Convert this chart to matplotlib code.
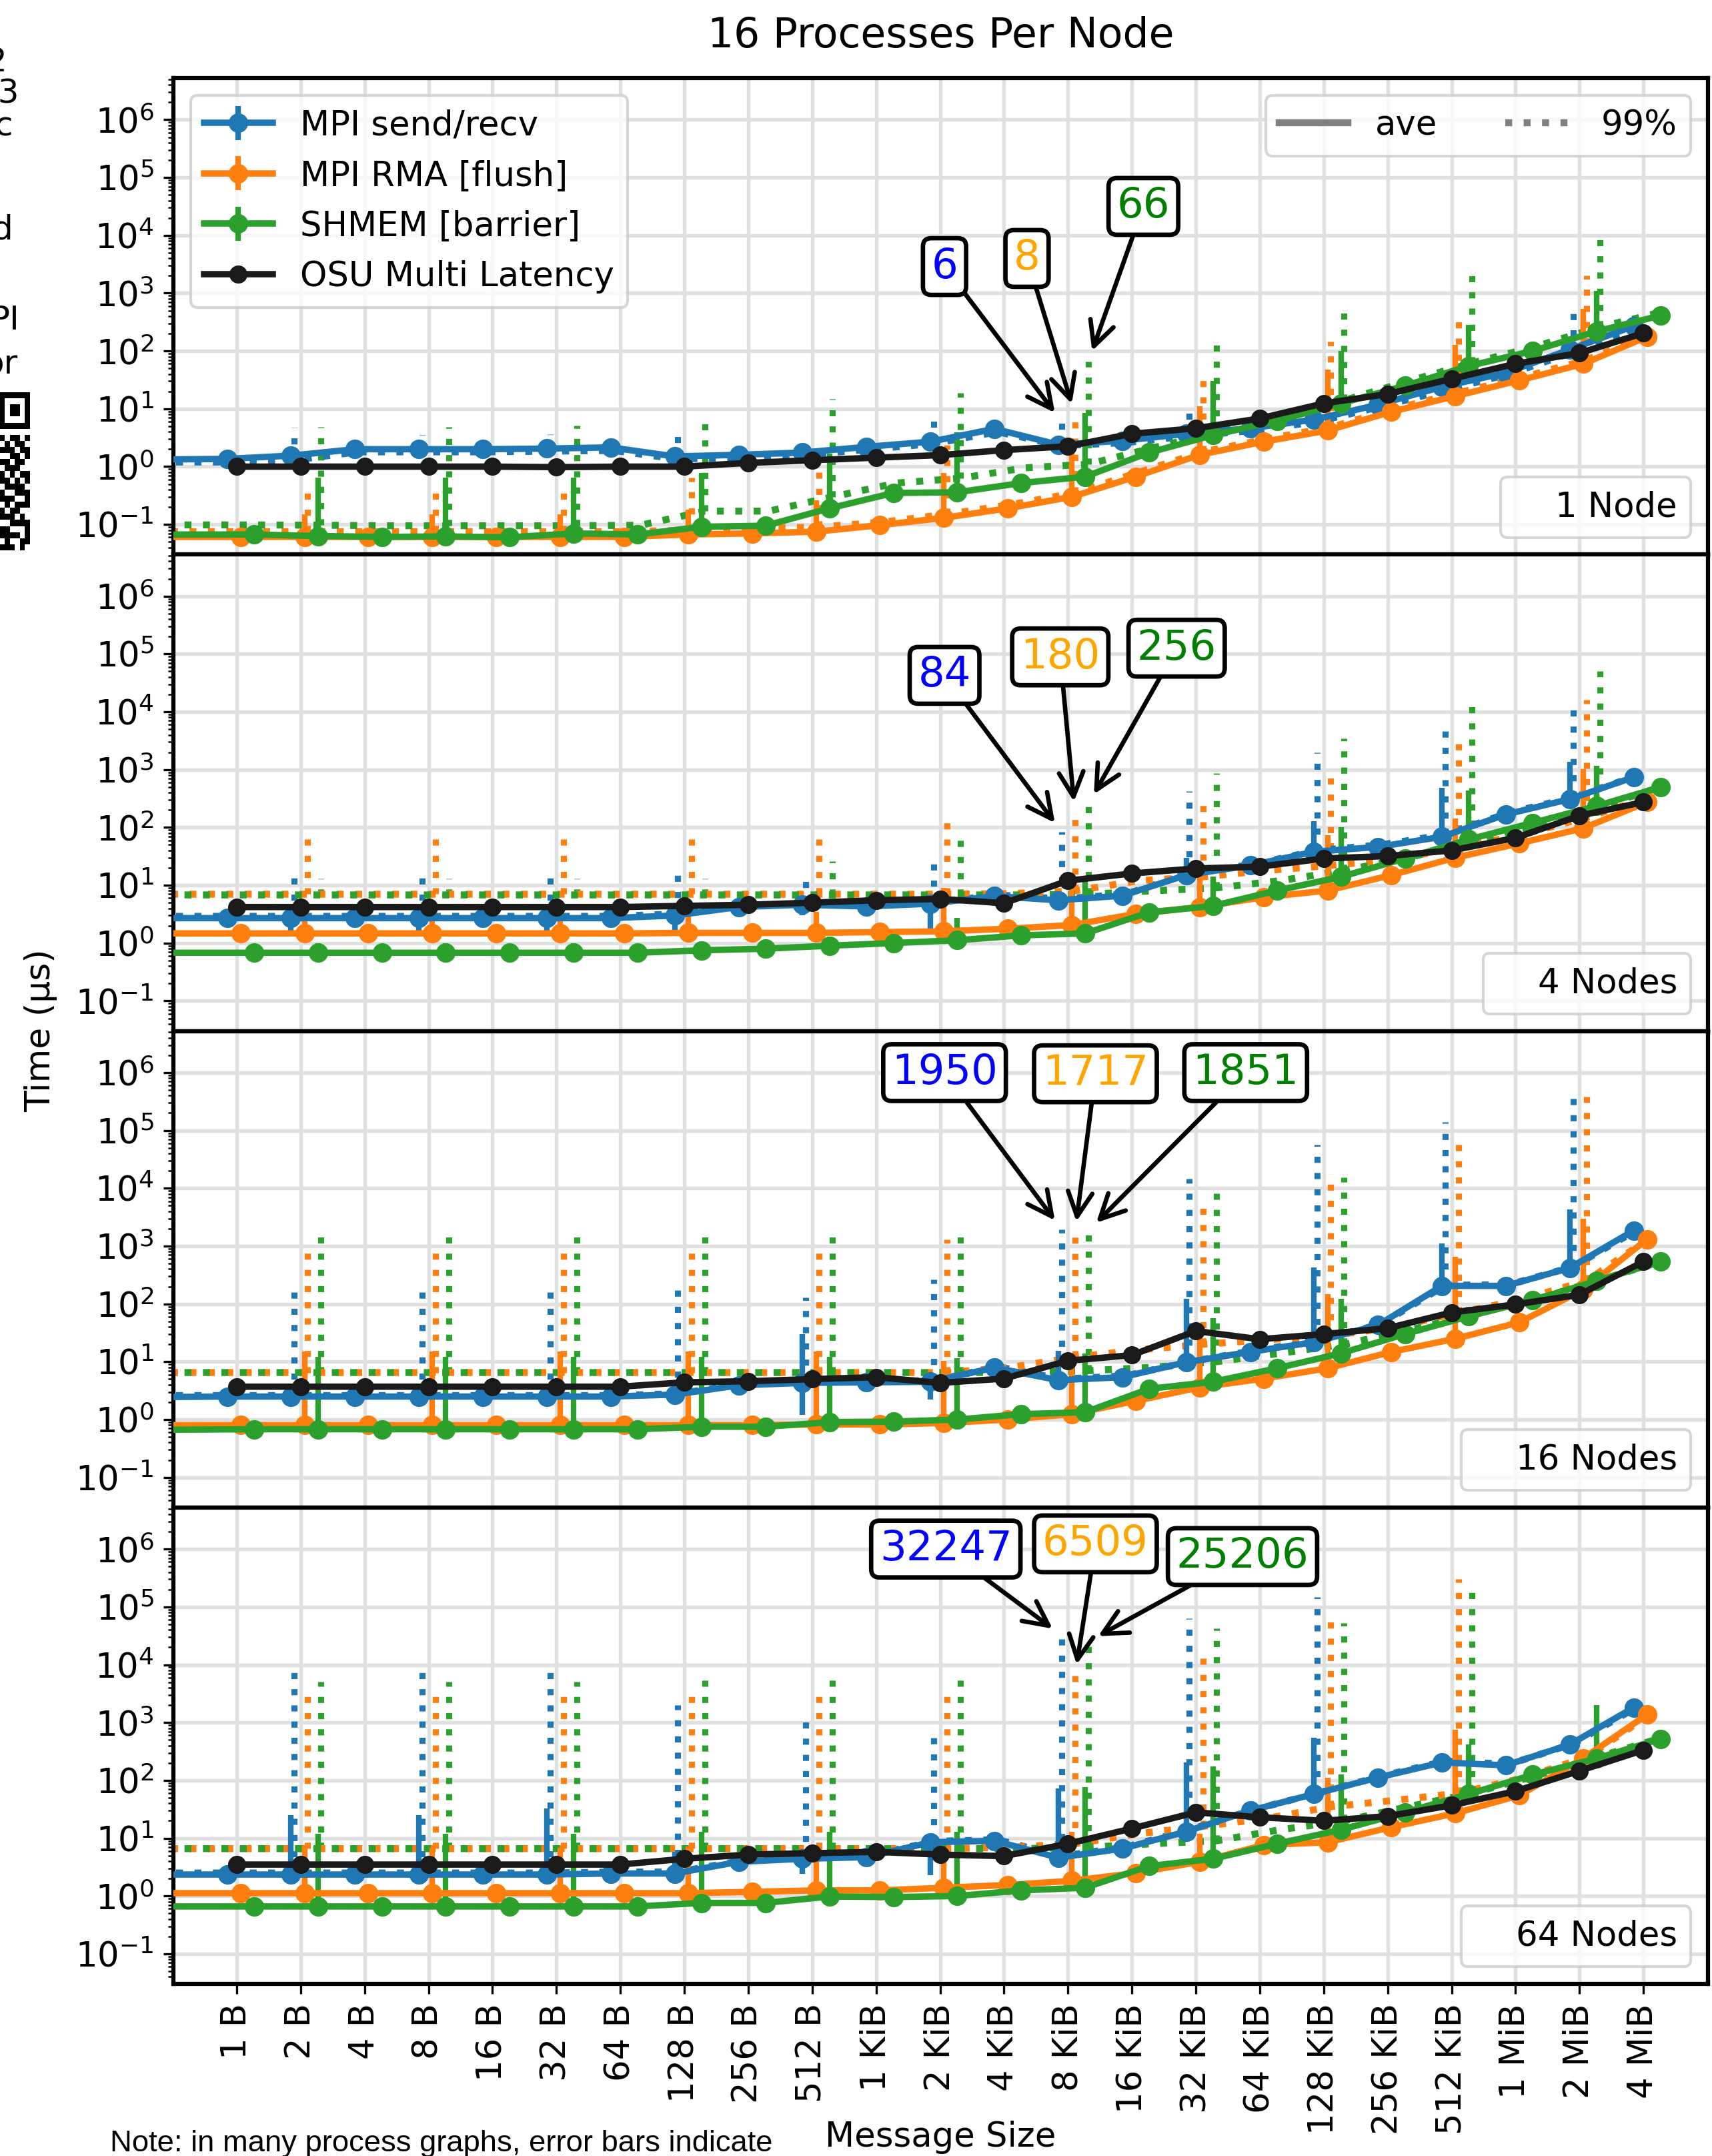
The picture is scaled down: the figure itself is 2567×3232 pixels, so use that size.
import numpy as np
import matplotlib
matplotlib.use('Agg')
import matplotlib.pyplot as plt
from matplotlib.lines import Line2D
from matplotlib.ticker import LogLocator, NullFormatter

plt.rcParams['font.family'] = ['DejaVu Sans']
plt.rcParams['font.size'] = 12.3
plt.rcParams['axes.linewidth'] = 1.5

# ---------------- data ----------------
categories = ['1 B', '2 B', '4 B', '8 B', '16 B', '32 B', '64 B', '128 B', '256 B', '512 B',
              '1 KiB', '2 KiB', '4 KiB', '8 KiB', '16 KiB', '32 KiB', '64 KiB', '128 KiB',
              '256 KiB', '512 KiB', '1 MiB', '2 MiB', '4 MiB']
series_names = ['MPI send/recv', 'MPI RMA [flush]', 'SHMEM [barrier]']
panel_labels = ['1 Node', '4 Nodes', '16 Nodes', '64 Nodes']

# ---- 1 Node ----
# lead = unlabelled point left of the visible axis range: [send, rma, shmem]
p1_lead_ave = [1.3, 0.061, 0.067]
p1_lead_p99 = [1.2, 0.075, 0.098]
p1_send_ave = [1.36, 1.55, 2.0, 2.0, 2.0, 2.05, 2.15, 1.5, 1.6, 1.75, 2.2, 2.7, 4.5, 2.4, 2.8, 3.7, 4.6, 6.5, 11.8, 24, 42, 106, 270]
p1_send_p99 = [1.2, 1.3, 1.8, 1.8, 1.8, 1.85, 1.9, 1.35, 1.45, 1.6, 2.0, 2.5, 4.0, 2.3, 2.6, 3.4, 4.2, 6.0, 11, 21, 40, 95, 250]
p1_send_lo = [1.55, 2.0, 2.05, 1.5, 1.75, 2.7, 2.4, 3.7, 6.5, 24, 106]
p1_send_hi = [1.7, 2.3, 2.4, 1.8, 2.0, 3.0, 2.8, 4.2, 7.5, 27, 120]
p1_send_top = [4.7, 3.5, 3.6, 4.7, 2.9, 6.9, 6, 9, 9, 28, 440]
p1_rma_ave = [0.061, 0.061, 0.061, 0.061, 0.061, 0.061, 0.061, 0.067, 0.07, 0.075, 0.097, 0.13, 0.19, 0.30, 0.67, 1.6, 2.7, 4.2, 8.9, 16.6, 31, 60, 177]
p1_rma_p99 = [0.075, 0.075, 0.075, 0.075, 0.075, 0.075, 0.075, 0.08, 0.085, 0.09, 0.11, 0.15, 0.22, 0.35, 0.8, 1.8, 3.0, 4.8, 10, 19, 35, 70, 200]
p1_rma_lo = [0.061, 0.061, 0.061, 0.067, 0.075, 0.13, 0.30, 1.6, 4.2, 16.6, 60]
p1_rma_hi = [0.15, 0.15, 0.15, 0.18, 0.26, 0.78, 2.6, 11, 48, 127, 540]
p1_rma_top = [0.38, 0.38, 0.38, 0.64, 0.8, 2.4, 8, 33, 147, 470, 2000]
p1_shmem_ave = [0.067, 0.063, 0.061, 0.062, 0.06, 0.07, 0.067, 0.091, 0.095, 0.19, 0.35, 0.36, 0.52, 0.67, 1.75, 3.5, 6.2, 12.4, 25, 55, 100, 219, 410]
p1_shmem_p99 = [0.098, 0.097, 0.095, 0.095, 0.095, 0.095, 0.097, 0.17, 0.17, 0.3, 0.52, 0.63, 0.95, 1.1, 2.1, 3.9, 7.0, 14, 30, 62, 120, 260, 480]
p1_shmem_lo = [0.063, 0.062, 0.07, 0.091, 0.19, 0.36, 0.67, 3.5, 12.4, 55, 219]
p1_shmem_hi = [0.64, 0.64, 0.64, 0.77, 1.66, 3.9, 8.4, 30, 100, 280, 1090]
p1_shmem_top = [4.9, 4.9, 5.1, 5.6, 15, 19, 66, 170, 560, 2500, 8500]
p1_osu = [1.0, 1.0, 1.0, 1.0, 1.0, 0.98, 1.0, 1.0, 1.16, 1.29, 1.43, 1.58, 1.93, 2.25, 3.7, 4.6, 6.8, 12.4, 18, 33, 60, 92, 203]
p1_annot = [6, 8, 66]

# ---- 4 Nodes ----
p2_lead_ave = [2.7, 1.47, 0.68]
p2_lead_p99 = [2.9, 7.0, 6.8]
p2_send_ave = [2.7, 2.7, 2.7, 2.7, 2.7, 2.7, 2.7, 3.0, 4.2, 4.6, 4.3, 4.8, 6.5, 5.5, 6.6, 15, 22, 38, 46, 69, 168, 309, 740]
p2_send_p99 = [2.9, 2.9, 2.9, 2.9, 2.9, 2.9, 2.9, 3.2, 4.4, 4.8, 4.5, 5.0, 6.8, 5.8, 7.0, 16, 23, 40, 50, 75, 180, 330, 780]
p2_send_lo = [1.5, 1.5, 1.5, 1.6, 3.0, 1.8, 5.0, 12, 35, 60, 280]
p2_send_hi = [3.5, 3.5, 3.5, 4.0, 5.5, 5.5, 7.0, 30, 127, 480, 1350]
p2_send_top = [17, 17, 17, 17, 17, 26, 84, 427, 2000, 6700, 15500]
p2_rma_ave = [1.47, 1.47, 1.47, 1.47, 1.47, 1.47, 1.47, 1.5, 1.5, 1.5, 1.55, 1.6, 1.77, 2.05, 3.2, 4.2, 6.2, 8.1, 15, 30, 53, 97, 275]
p2_rma_p99 = [7.0, 7.0, 7.0, 7.0, 7.0, 7.0, 7.0, 7.0, 7.0, 7.0, 7.0, 7.0, 7.2, 8.0, 12, 14, 18, 22, 28, 45, 75, 150, 330]
p2_rma_lo = [1.47, 1.47, 1.47, 1.5, 1.5, 1.6, 2.05, 4.2, 8.1, 30, 97]
p2_rma_hi = [3.5, 3.5, 3.5, 3.5, 3.5, 9.0, 10, 18.6, 74, 141, 1030]
p2_rma_top = [80, 80, 80, 80, 80, 141, 180, 345, 980, 3650, 16200]
p2_shmem_ave = [0.68, 0.68, 0.68, 0.68, 0.68, 0.68, 0.68, 0.75, 0.8, 0.9, 1.0, 1.12, 1.36, 1.47, 3.4, 4.4, 8.1, 14, 29, 62, 120, 235, 500]
p2_shmem_p99 = [6.8, 6.8, 6.8, 6.8, 6.8, 6.8, 6.8, 6.8, 6.8, 6.8, 6.8, 6.8, 6.8, 7.0, 8.0, 9.0, 12, 18, 30, 55, 110, 230, 520]
p2_shmem_lo = [0.52, 0.52, 0.52, 0.6, 0.9, 1.12, 1.47, 4.4, 14, 62, 235]
p2_shmem_hi = [1.0, 1.0, 1.0, 1.0, 1.3, 2.7, 14, 14, 100, 430, 1150]
p2_shmem_top = [13, 13, 13, 13, 26, 78, 256, 870, 3500, 13000, 50000]
p2_osu = [4.2, 4.2, 4.2, 4.2, 4.2, 4.2, 4.2, 4.4, 4.6, 5.0, 5.5, 5.8, 4.9, 12, 16, 19.5, 21, 29, 32, 40, 66, 159, 275]
p2_annot = [84, 180, 256]

# ---- 16 Nodes ----
p3_lead_ave = [2.4, 0.8, 0.66]
p3_lead_p99 = [2.6, 6.5, 6.5]
p3_send_ave = [2.5, 2.5, 2.5, 2.5, 2.5, 2.5, 2.5, 2.7, 3.9, 4.3, 4.4, 4.5, 7.9, 4.8, 5.4, 9.8, 14.8, 21.8, 43, 205, 205, 420, 1860]
p3_send_p99 = [2.6, 2.6, 2.6, 2.6, 2.6, 2.6, 2.6, 2.8, 4.1, 4.5, 4.6, 4.7, 8.2, 5.0, 5.7, 10, 15.5, 23, 45, 210, 215, 440, 1900]
p3_send_lo = [2.5, 2.5, 2.5, 2.7, 1.2, 2.2, 4.8, 9.8, 21.8, 205, 420]
p3_send_hi = [3.0, 3.0, 3.0, 3.5, 30, 4.5, 15.6, 124, 427, 1100, 4300]
p3_send_top = [230, 230, 230, 230, 130, 268, 1950, 14800, 57000, 138000, 380000]
p3_rma_ave = [0.8, 0.8, 0.8, 0.8, 0.8, 0.8, 0.8, 0.8, 0.8, 0.82, 0.82, 0.87, 1.0, 1.24, 2.1, 3.6, 5.1, 7.7, 14.8, 25, 48, 176, 1320]
p3_rma_p99 = [6.5, 6.5, 6.5, 6.5, 6.5, 6.5, 6.5, 6.5, 6.5, 6.5, 6.5, 6.5, 8.0, 12, 16, 20, 24, 28, 40, 70, 120, 250, 1400]
p3_rma_lo = [0.8, 0.8, 0.8, 0.8, 0.82, 0.87, 1.24, 3.6, 7.7, 25, 176]
p3_rma_hi = [15, 15, 15, 15, 15, 10.4, 8.0, 28, 148, 650, 3000]
p3_rma_top = [900, 900, 900, 900, 900, 1300, 1717, 4800, 17700, 81000, 380000]
p3_shmem_ave = [0.68, 0.68, 0.68, 0.68, 0.68, 0.68, 0.68, 0.75, 0.75, 0.9, 0.92, 1.0, 1.24, 1.34, 3.4, 4.5, 7.7, 14, 30, 61, 116, 250, 540]
p3_shmem_p99 = [6.5, 6.5, 6.5, 6.5, 6.5, 6.5, 6.5, 6.5, 6.5, 6.5, 6.5, 6.5, 6.5, 7.0, 8.0, 10, 14, 20, 35, 65, 120, 260, 560]
p3_shmem_lo = [0.68, 0.68, 0.68, 0.75, 0.9, 1.0, 1.34, 4.5, 14, 61, 250]
p3_shmem_hi = [12, 12, 12, 12, 12, 11.6, 14, 57, 124, 70, 260]
p3_shmem_top = [1500, 1500, 1500, 1500, 1500, 1660, 1851, 8200, 15600, 80, 300]
p3_osu = [3.7, 3.7, 3.7, 3.7, 3.7, 3.7, 3.7, 4.4, 4.6, 5.0, 5.4, 4.3, 5.1, 10.4, 13, 34, 24.5, 30, 38, 71, 98, 144, 540]
p3_annot = [1950, 1717, 1851]

# ---- 64 Nodes ----
p4_lead_ave = [2.35, 1.12, 0.66]
p4_lead_p99 = [2.5, 6.6, 6.6]
p4_send_ave = [2.35, 2.35, 2.35, 2.35, 2.35, 2.35, 2.45, 2.45, 3.9, 4.4, 4.7, 8.5, 9.0, 4.6, 6.6, 13, 30, 58, 112, 204, 182, 417, 1820]
p4_send_p99 = [2.5, 2.5, 2.5, 2.5, 2.5, 2.5, 2.6, 2.6, 4.1, 4.6, 5.0, 8.8, 9.4, 4.9, 7.0, 14, 31, 60, 118, 215, 190, 430, 1850]
p4_send_lo = [2.35, 2.35, 2.35, 2.45, 2.4, 2.3, 4.6, 13, 58, 204, 417]
p4_send_hi = [25, 25, 33, 5.8, 5.0, 8.5, 72, 204, 550, 250, 450]
p4_send_top = [10000, 10000, 10000, 2000, 1140, 720, 32247, 64000, 148000, 250, 500]
p4_rma_ave = [1.12, 1.12, 1.12, 1.12, 1.12, 1.12, 1.12, 1.12, 1.18, 1.25, 1.25, 1.39, 1.55, 1.83, 2.5, 3.9, 7.6, 8.5, 15.5, 27, 55, 240, 1380]
p4_rma_p99 = [6.6, 6.6, 6.6, 6.6, 6.6, 6.6, 6.6, 6.6, 6.6, 6.6, 6.6, 6.6, 7.0, 8.0, 12, 16, 22, 35, 45, 60, 110, 250, 1400]
p4_rma_lo = [1.12, 1.12, 1.12, 1.12, 1.25, 1.39, 1.83, 3.9, 8.5, 27, 240]
p4_rma_hi = [6.8, 6.8, 6.8, 7.2, 7.2, 7.0, 13, 12, 112, 760, 300]
p4_rma_top = [3000, 3000, 3000, 3000, 3300, 3400, 6509, 14700, 61000, 300000, 300]
p4_shmem_ave = [0.66, 0.66, 0.66, 0.66, 0.66, 0.66, 0.66, 0.76, 0.76, 0.98, 0.96, 1.0, 1.25, 1.39, 3.3, 4.4, 8.0, 14, 28, 58, 125, 240, 520]
p4_shmem_p99 = [6.6, 6.6, 6.6, 6.6, 6.6, 6.6, 6.6, 6.6, 6.6, 6.6, 6.6, 6.6, 6.6, 7.0, 8.0, 9.0, 14, 20, 35, 60, 120, 260, 560]
p4_shmem_lo = [0.66, 0.66, 0.66, 0.76, 0.98, 1.0, 1.39, 4.4, 14, 58, 240]
p4_shmem_hi = [11.8, 11.8, 11.8, 13, 13, 13, 76, 173, 125, 420, 2000]
p4_shmem_top = [5100, 5100, 5100, 5500, 5500, 5800, 25206, 42000, 52000, 183000, 300]
p4_osu = [3.5, 3.5, 3.5, 3.5, 3.5, 3.5, 3.5, 4.4, 5.2, 5.5, 5.8, 5.2, 4.9, 8.0, 14.7, 28, 23, 20, 24, 37, 65, 146, 333]
p4_annot = [32247, 6509, 25206]

# ---------------- style / layout ----------------
series_colors = ['#1f77b4', '#ff7f0e', '#2ca02c']
annot_colors = ['blue', 'orange', 'green']
osu_color = '#1a1a1a'
x_offsets = [-0.15, 0.06, 0.27]
p99_shift = 0.05
lead_pos = -2.0
annot_text_pos = [
    [(11.07, 3.46), (12.36, 3.60), (14.18, 4.50)],
    [(11.07, 4.63), (12.88, 4.95), (14.70, 5.10)],
    [(11.07, 6.00), (13.43, 5.98), (15.78, 6.00)],
    [(11.09, 6.00), (13.43, 6.09), (15.73, 5.87)],
]

panels = [
    dict(ave=[p1_send_ave, p1_rma_ave, p1_shmem_ave], p99=[p1_send_p99, p1_rma_p99, p1_shmem_p99],
         lo=[p1_send_lo, p1_rma_lo, p1_shmem_lo], hi=[p1_send_hi, p1_rma_hi, p1_shmem_hi],
         top=[p1_send_top, p1_rma_top, p1_shmem_top], osu=p1_osu, annot=p1_annot,
         lead_ave=p1_lead_ave, lead_p99=p1_lead_p99),
    dict(ave=[p2_send_ave, p2_rma_ave, p2_shmem_ave], p99=[p2_send_p99, p2_rma_p99, p2_shmem_p99],
         lo=[p2_send_lo, p2_rma_lo, p2_shmem_lo], hi=[p2_send_hi, p2_rma_hi, p2_shmem_hi],
         top=[p2_send_top, p2_rma_top, p2_shmem_top], osu=p2_osu, annot=p2_annot,
         lead_ave=p2_lead_ave, lead_p99=p2_lead_p99),
    dict(ave=[p3_send_ave, p3_rma_ave, p3_shmem_ave], p99=[p3_send_p99, p3_rma_p99, p3_shmem_p99],
         lo=[p3_send_lo, p3_rma_lo, p3_shmem_lo], hi=[p3_send_hi, p3_rma_hi, p3_shmem_hi],
         top=[p3_send_top, p3_rma_top, p3_shmem_top], osu=p3_osu, annot=p3_annot,
         lead_ave=p3_lead_ave, lead_p99=p3_lead_p99),
    dict(ave=[p4_send_ave, p4_rma_ave, p4_shmem_ave], p99=[p4_send_p99, p4_rma_p99, p4_shmem_p99],
         lo=[p4_send_lo, p4_rma_lo, p4_shmem_lo], hi=[p4_send_hi, p4_rma_hi, p4_shmem_hi],
         top=[p4_send_top, p4_rma_top, p4_shmem_top], osu=p4_osu, annot=p4_annot,
         lead_ave=p4_lead_ave, lead_p99=p4_lead_p99),
]

W, H = 2567, 3232
fig, axes = plt.subplots(4, 1, sharex=True, figsize=(W / 300, H / 300), dpi=300)
fig.subplots_adjust(left=260 / W, right=2561 / W, top=1 - 117 / H, bottom=1 - 2974 / H, hspace=0)

n = len(categories)
x = np.arange(n)
xs = np.concatenate([[lead_pos], x])   # series positions incl. the hidden leading point
odd = np.arange(1, n, 2)               # error bars at 2 B, 8 B, 32 B, ...
odd_s = odd + 1                        # same points, indexed in the series arrays
idx_8k = categories.index('8 KiB')
k_8k = list(odd).index(idx_8k)
m = n + 1

for p, ax in enumerate(axes):
    P = panels[p]
    handles = []
    for s in range(3):
        ave = np.array([P['lead_ave'][s]] + list(P['ave'][s]), dtype=float)
        p99 = np.array([P['lead_p99'][s]] + list(P['p99'][s]), dtype=float)
        lo = np.zeros(m); hi = np.zeros(m); top = np.zeros(m)
        lo[odd_s] = np.clip(ave[odd_s] - np.array(P['lo'][s]), 0, None)
        hi[odd_s] = np.clip(np.array(P['hi'][s]) - ave[odd_s], 0, None)
        top[odd_s] = np.clip(np.array(P['top'][s]) - p99[odd_s], 0, None)
        dot = ax.errorbar(xs + x_offsets[s] + p99_shift, p99, yerr=[np.zeros(m), top],
                          errorevery=(2, 2), fmt=':', color=series_colors[s], lw=2.5,
                          elinewidth=2.2, capsize=0, zorder=2)
        for lc in dot[2]:
            lc.set_linestyle(':')
        cont = ax.errorbar(xs + x_offsets[s], ave, yerr=[lo, hi], errorevery=(2, 2), fmt='-o',
                           color=series_colors[s], lw=2.3, ms=6, elinewidth=2.0, capsize=0,
                           label=series_names[s], zorder=3)
        handles.append(cont)
    osu_line, = ax.plot(x, P['osu'], '-o', color=osu_color, lw=2.3, ms=5.5, zorder=4,
                        label='OSU Multi Latency')
    handles.append(osu_line)

    ax.set_yscale('log')
    ax.set_ylim(10 ** -1.52, 10 ** 6.72)
    ax.set_xlim(-0.99, 23.01)
    ax.yaxis.set_major_locator(LogLocator(base=10, numticks=20))
    ax.yaxis.set_minor_locator(LogLocator(base=10, subs=np.arange(2, 10), numticks=20))
    ax.yaxis.set_minor_formatter(NullFormatter())
    ax.grid(True, which='major', color='0.88', lw=1.3)
    ax.set_axisbelow(True)

    # annotations of the 8 KiB maxima
    for s in range(3):
        tx, tly = annot_text_pos[p][s]
        ax.annotate(str(P['annot'][s]),
                    xy=(idx_8k + x_offsets[s] + p99_shift, P['top'][s][k_8k]),
                    xytext=(tx, 10 ** tly), textcoords='data', ha='center', va='center',
                    color=annot_colors[s], fontsize=15, zorder=6,
                    bbox=dict(boxstyle='round,pad=0.2', fc='white', ec='black', lw=1.6),
                    arrowprops=dict(arrowstyle='->', color='black', lw=1.6, shrinkA=0,
                                    shrinkB=4, mutation_scale=22))

    if p == 0:
        leg1 = ax.legend(handles=handles, loc='upper left')
        ax.add_artist(leg1)
        style_handles = [Line2D([], [], color='0.5', lw=2.5, ls='-'),
                         Line2D([], [], color='0.5', lw=2.5, ls=':')]
        leg2 = ax.legend(handles=style_handles, labels=['ave', '99%'], loc='upper right', ncol=2)
        ax.add_artist(leg2)
    ax.legend(handles=[Line2D([], [], color='none')], labels=[panel_labels[p]],
              loc='lower right', handlelength=0.6, handletextpad=0.6)

axes[0].set_title('16 Processes Per Node', fontsize=14.8, pad=11)
axes[-1].set_xticks(x)
axes[-1].set_xticklabels(categories, rotation=90)
for ax in axes[:-1]:
    ax.tick_params(axis='x', which='both', bottom=False)
fig.text(1410 / W, 1 - 3204 / H, 'Message Size', ha='center', va='center')
fig.text(0.024, 1 - 1545 / H, 'Time (μs)', rotation=90, ha='center', va='center', fontsize=12.5)

# poster context at the crop edges
fig.text(165 / W, 1 - 3214 / H, 'Note: in many process graphs, error bars indicate',
         family=['Liberation Sans Narrow', 'Liberation Sans'], fontsize=10.9, va='center', ha='left')
fragments = [('2', 5, 45), ('13', 14, 68), ('c', 9, 92), ('d', 9, 167), ('PI', 14, 233), ('or', 13, 265)]
for txt, rx, yy in fragments:
    fig.text(rx * 2.062 / W, 1 - yy * 2.062 / H, txt, ha='right', va='center', fontsize=12)

qr_rows = ["111111", "100001", "101101", "101101", "100001", "111111", "000000", "101101",
           "010110", "111011", "001101", "110110", "011100", "101011", "110101", "011110",
           "100111", "111001", "010111", "101100", "111010", "001111", "110001", "111101",
           "010011", "111010"]
qr = np.array([[int(c) for c in r] for r in qr_rows])
qax = fig.add_axes([0, 1 - 825 / H, 45 / W, 237 / H])
qax.imshow(qr, cmap='gray_r', interpolation='nearest', aspect='auto')
qax.axis('off')

fig.savefig('out.png', dpi=300)
